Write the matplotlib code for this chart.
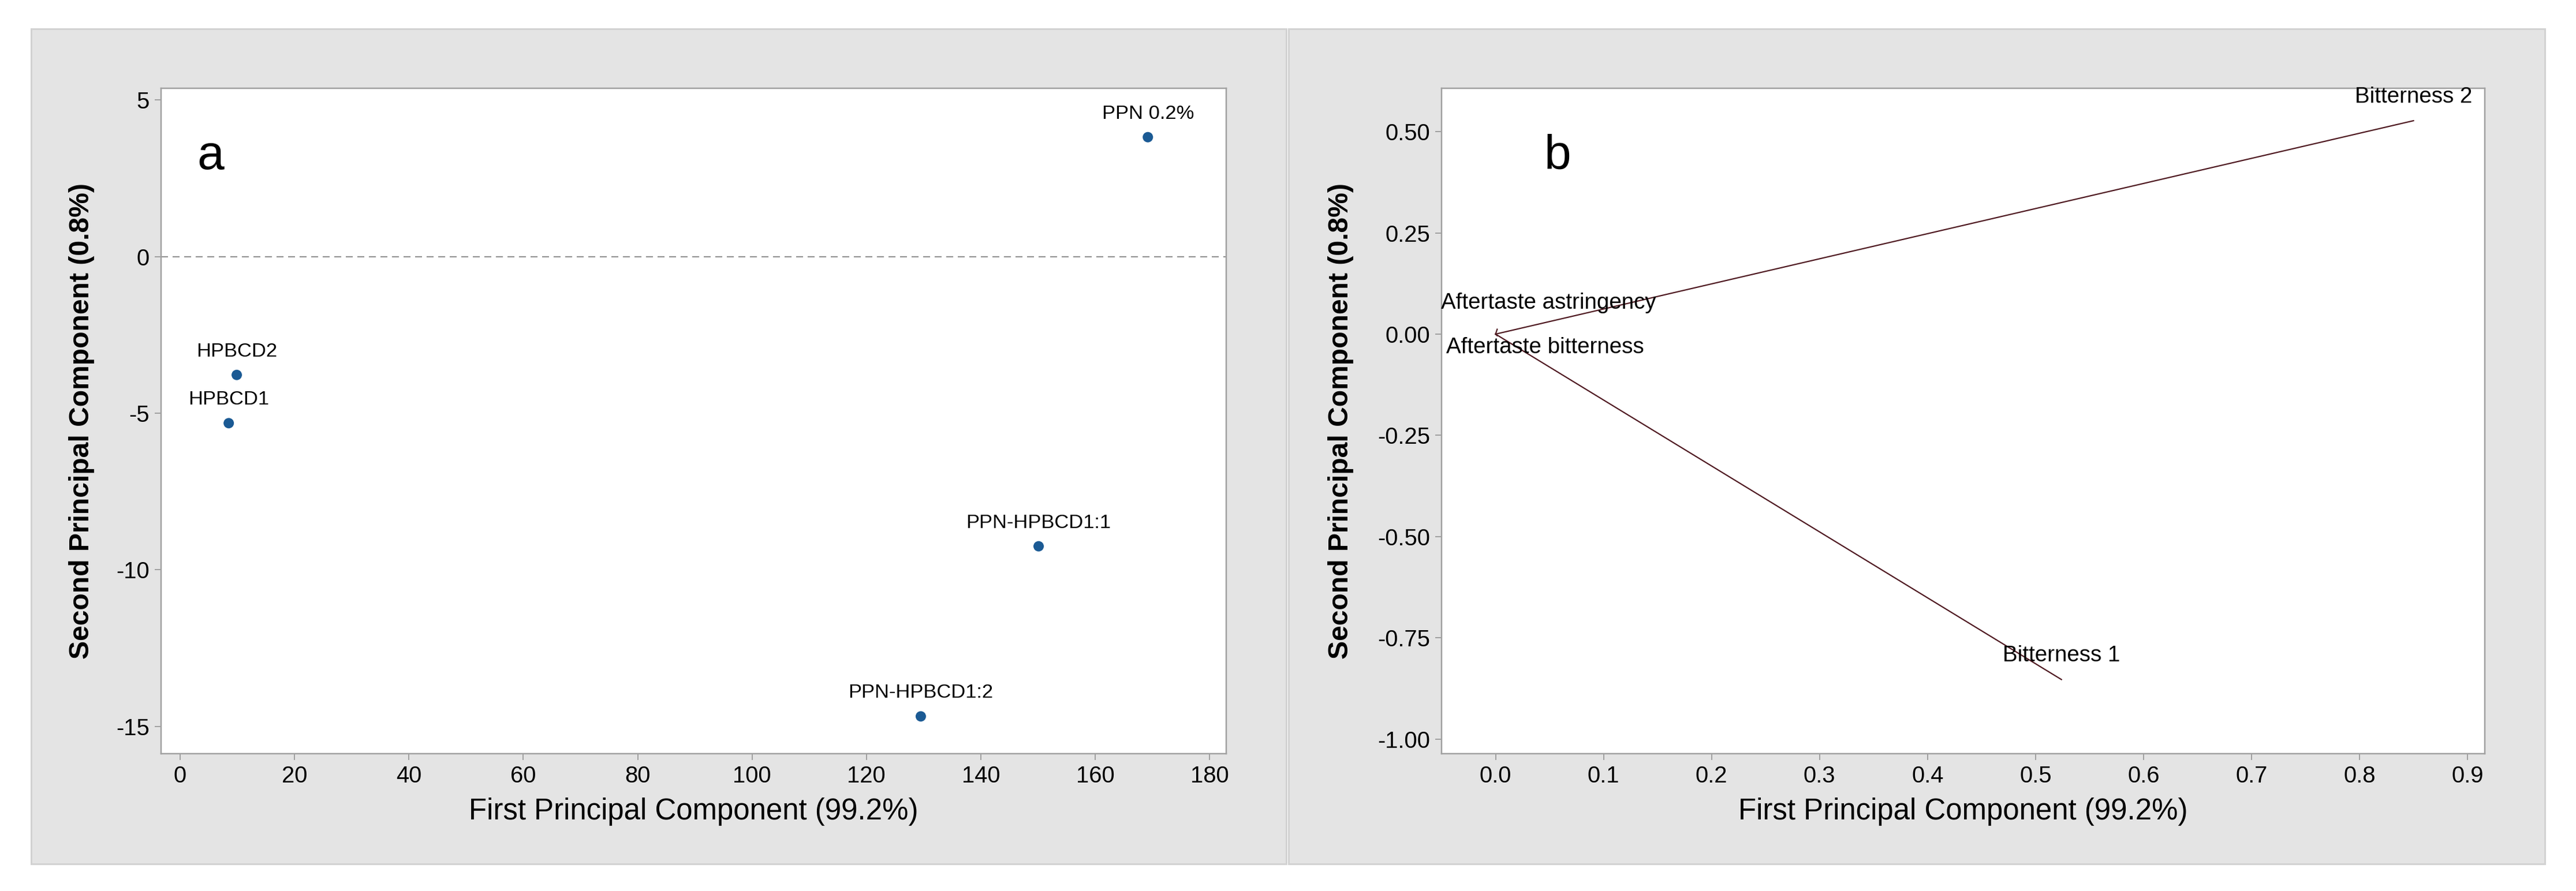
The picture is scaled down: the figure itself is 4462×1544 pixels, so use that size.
import matplotlib
matplotlib.use("Agg")
import matplotlib.pyplot as plt
from matplotlib.patches import Rectangle
import numpy as np

plt.rcParams['font.family'] = ['Liberation Sans', 'DejaVu Sans']
plt.rcParams['axes.unicode_minus'] = False

# ---------------- data ----------------
score_labels = ["PPN 0.2%", "HPBCD2", "HPBCD1", "PPN-HPBCD1:1", "PPN-HPBCD1:2"]
score_pc1 = [169.2, 9.9, 8.5, 150.1, 129.5]
score_pc2 = [3.81, -3.78, -5.32, -9.25, -14.68]

load_labels = ["Bitterness 2", "Bitterness 1", "Aftertaste astringency", "Aftertaste bitterness"]
load_pc1 = [0.850, 0.524, 0.0015, 0.0015]
load_pc2 = [0.527, -0.853, 0.012, -0.004]

xticks_a = [0, 20, 40, 60, 80, 100, 120, 140, 160, 180]
yticks_a = [-15, -10, -5, 0, 5]
xticks_b = [0.0, 0.1, 0.2, 0.3, 0.4, 0.5, 0.6, 0.7, 0.8, 0.9]
yticks_b = [-1.00, -0.75, -0.50, -0.25, 0.00, 0.25, 0.50]

xlabel = "First Principal Component (99.2%)"
ylabel = "Second Principal Component (0.8%)"

# ---------------- layout / style ----------------
W, H = 4462, 1544
DPI = 100
PX = 72.0 / DPI  # points per pixel

fig = plt.figure(figsize=(W / DPI, H / DPI), dpi=DPI, facecolor='white')

panel_face = '#e4e4e4'
panel_edge = '#d2d2d2'
for x0, w in ((54, 2174), (2232, 2176)):
    r = Rectangle((x0 / W, 1 - 1497 / H), w / W, 1447 / H,
                  transform=fig.transFigure, facecolor=panel_face,
                  edgecolor=panel_edge, linewidth=3 * PX, zorder=-10)
    fig.add_artist(r)

ax_bottom = 1 - 1306 / H
ax_height = 1153 / H
axA = fig.add_axes([279 / W, ax_bottom, 1845 / W, ax_height], zorder=1)
axB = fig.add_axes([2497 / W, ax_bottom, 1807 / W, ax_height], zorder=1)

spine_col = '#a0a0a0'
tick_fs = 40 * PX
label_fs = 51 * PX
ylabel_fs = 48 * PX

for ax in (axA, axB):
    ax.set_facecolor('white')
    for s in ax.spines.values():
        s.set_color(spine_col)
        s.set_linewidth(2.5 * PX)
    ax.tick_params(axis='both', direction='out', length=11 * PX, width=2 * PX,
                   color=spine_col, labelsize=tick_fs, labelcolor='black', pad=9 * PX)
    ax.tick_params(top=False, right=False)
    ax.set_xlabel(xlabel, fontsize=label_fs)
    ax.set_ylabel(ylabel, fontsize=ylabel_fs, fontweight='bold')
    ax.yaxis.label.set_verticalalignment('center')
    ax.xaxis.label.set_verticalalignment('top')

# ---------------- panel a: score plot ----------------
axA.set_xlim(-3.33, 182.9)
axA.set_ylim(-15.87, 5.37)
axA.set_xticks(xticks_a)
axA.set_xticklabels([str(v) for v in xticks_a])
axA.set_yticks(yticks_a)
axA.set_yticklabels([str(v) for v in yticks_a])
axA.axhline(0, color='#8f8f8f', linewidth=2 * PX, dashes=(6, 4), zorder=1)
axA.scatter(score_pc1, score_pc2, s=(18 * PX) ** 2, color='#1b5a94', zorder=3,
            edgecolors='none')
for lab, x, y in zip(score_labels, score_pc1, score_pc2):
    axA.annotate(lab, (x, y), xytext=(0, 32 * PX), textcoords='offset points',
                 ha='center', va='baseline', fontsize=34.5 * PX)
axA.text(0.034, 0.879, "a", transform=axA.transAxes, fontsize=84 * PX,
         ha='left', va='baseline')
axA.xaxis.set_label_coords(0.5, -0.066)
axA.yaxis.set_label_coords(-0.0743, 0.5)

# ---------------- panel b: loading plot ----------------
axB.set_xlim(-0.050, 0.916)
axB.set_ylim(-1.036, 0.607)
axB.set_xticks(xticks_b)
axB.set_xticklabels([f"{v:.1f}" for v in xticks_b])
axB.set_yticks(yticks_b)
axB.set_yticklabels([f"{v:.2f}" for v in yticks_b])
line_col = '#4e1820'
for x, y in zip(load_pc1, load_pc2):
    axB.plot([0, x], [0, y], color=line_col, linewidth=2.2 * PX, zorder=2)

# label placement offsets (pixels) relative to vector ends
label_offsets = {
    "Bitterness 2": (0, 31, 'center'),
    "Bitterness 1": (0, 32, 'center'),
    "Aftertaste astringency": (-97, 36, 'left'),
    "Aftertaste bitterness": (-88, -30, 'left'),
}
for lab, x, y in zip(load_labels, load_pc1, load_pc2):
    dx, dy, ha = label_offsets[lab]
    axB.annotate(lab, (x, y), xytext=(dx * PX, dy * PX), textcoords='offset points',
                 ha=ha, va='baseline', fontsize=38.5 * PX, zorder=4)
axB.text(0.0985, 0.879, "b", transform=axB.transAxes, fontsize=84 * PX,
         ha='left', va='baseline')
axB.xaxis.set_label_coords(0.5, -0.066)
axB.yaxis.set_label_coords(-0.0968, 0.5)

fig.savefig("out.png", dpi=DPI, facecolor='white')
